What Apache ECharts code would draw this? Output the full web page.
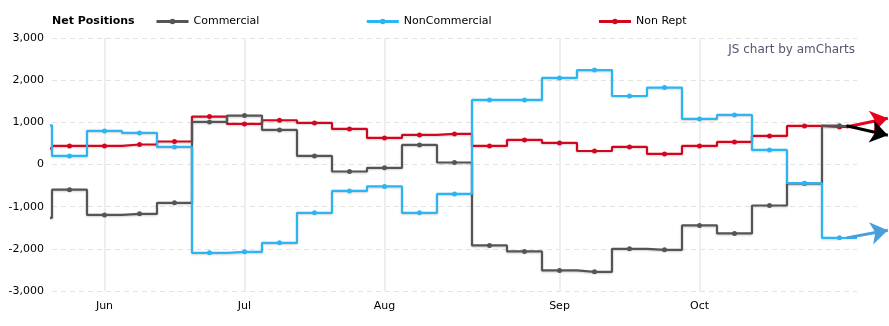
<!DOCTYPE html>
<html><head><meta charset="utf-8">
<script src="https://cdn.jsdelivr.net/npm/echarts@6/dist/echarts.min.js"></script>
<style>html,body{margin:0;padding:0;background:#fff}#c{width:889px;height:326px}</style>
</head><body><div id="c"></div>
<script>
// Weekly report dates (first entry is the week before the visible window)
const dates = ['2017-05-23','2017-05-30','2017-06-06','2017-06-13','2017-06-20','2017-06-27',
  '2017-07-04','2017-07-11','2017-07-18','2017-07-25','2017-08-01','2017-08-08','2017-08-15',
  '2017-08-22','2017-08-29','2017-09-05','2017-09-12','2017-09-19','2017-09-26','2017-10-03',
  '2017-10-10','2017-10-17','2017-10-24','2017-10-31'];
const commercial = [-1265,-597,-1195,-1170,-910,1010,1161,820,204,-166,-80,465,47,
  -1920,-2062,-2512,-2545,-2000,-2024,-1446,-1635,-972,-450,920];
const nonCommercial = [929,204,797,749,417,-2095,-2071,-1858,-1147,-626,-521,-1147,-697,
  1531,1531,2052,2240,1625,1825,1081,1176,346,-443,-1740];
const nonRept = [379,441,441,474,545,1137,962,1050,986,844,630,701,725,
  441,583,512,320,417,251,441,536,678,915,890];
// Trend arrow targets (value at the arrow tip)
const trendCommercial = 694;
const trendNonCommercial = -1557;
const trendNonRept = 1097;
const monthNames = ['Jan','Feb','Mar','Apr','May','Jun','Jul','Aug','Sep','Oct','Nov','Dec'];
const yTicks = [-3000,-2000,-1000,0,1000,2000,3000];

const FONT = 'DejaVu Sans';
const last = dates.length - 1;
const pts = arr => arr.map((v, i) => [i, v]);
const monthOf = d => parseInt(d.slice(5, 7), 10) - 1;
const monthTicks = [];
for (let i = 1; i < dates.length; i++) {
  if (monthOf(dates[i]) !== monthOf(dates[i - 1])) monthTicks.push(i);
}
const C_COM = '#555555', C_NC = '#2bb5f2', C_NR = '#d2071f';
const shadow = {shadowColor: 'rgba(0,0,0,0.18)', shadowBlur: 2, shadowOffsetY: 1};
function stepSeries(name, data, color, z) {
  return {
    name, type: 'line', step: 'middle', data: pts(data), z,
    symbol: 'circle', symbolSize: 5, showSymbol: true,
    lineStyle: Object.assign({color, width: 2.2}, shadow),
    itemStyle: {color},
    emphasis: {disabled: true}, animation: false
  };
}
const stubs = [
  {coords: [[last, nonRept[last]], [last + 0.5, nonRept[last]]], lineStyle: {color: C_NR}},
  {coords: [[last, commercial[last]], [last + 0.5, commercial[last]]], lineStyle: {color: C_COM}},
  {coords: [[last, nonCommercial[last]], [last + 0.5, nonCommercial[last]]], lineStyle: {color: C_NC}}
];
const arrows = [
  {coords: [[last + 0.2, nonRept[last]], [last + 1.38, trendNonRept]], lineStyle: {color: '#e8001c'}},
  {coords: [[last + 0.2, commercial[last]], [last + 1.38, trendCommercial]], lineStyle: {color: '#000000'}},
  {coords: [[last + 0.2, nonCommercial[last]], [last + 1.38, trendNonCommercial]], lineStyle: {color: '#4a9edb'}}
];

const chart = echarts.init(document.getElementById('c'), null, {renderer: 'canvas'});
chart.setOption({
  animation: false,
  textStyle: {fontFamily: FONT},
  title: {text: 'Net Positions', left: 52, top: 16, padding: 0,
    textStyle: {fontFamily: FONT, fontSize: 11, fontWeight: 'bold', color: '#000'}},
  legend: {
    data: ['Commercial', 'NonCommercial', 'Non Rept'],
    left: 155, top: 16, padding: 0, itemWidth: 32, itemHeight: 7, itemGap: 106,
    lineStyle: {width: 3},
    textStyle: {fontFamily: FONT, fontSize: 11, color: '#000'}
  },
  graphic: [{type: 'text', right: 34, top: 44,
    style: {text: 'JS chart by amCharts', font: '12px "DejaVu Sans"', fill: '#575470'}}],
  grid: {left: 52, right: 32, top: 38, bottom: 35},
  xAxis: {
    type: 'value', min: 0.5, max: last + 0.5,
    axisLine: {show: false},
    axisTick: {show: false, customValues: monthTicks},
    axisLabel: {customValues: monthTicks, color: '#000', fontSize: 11, margin: 10,
      formatter: v => monthNames[monthOf(dates[Math.round(v)])]},
    splitLine: {show: true, lineStyle: {color: '#eeeeee', width: 2}}
  },
  yAxis: {
    type: 'value', min: yTicks[0], max: yTicks[yTicks.length - 1], interval: 1000,
    axisLine: {show: false}, axisTick: {show: false},
    axisLabel: {color: '#000', fontSize: 11, margin: 8},
    splitLine: {lineStyle: {color: '#e3e3e3', type: [5, 4], width: 1}}
  },
  series: [
    stepSeries('Non Rept', nonRept, C_NR, 2),
    stepSeries('Commercial', commercial, C_COM, 3),
    stepSeries('NonCommercial', nonCommercial, C_NC, 4),
    {type: 'lines', coordinateSystem: 'cartesian2d', clip: false, z: 5, silent: true,
      lineStyle: {width: 2.2, opacity: 1}, symbol: ['none', 'none'], data: stubs},
    {type: 'lines', coordinateSystem: 'cartesian2d', clip: false, z: 6, silent: true,
      lineStyle: {width: 3, opacity: 1}, symbol: ['none', 'arrow'], symbolSize: 17, data: arrows}
  ]
});
</script>
</body></html>
